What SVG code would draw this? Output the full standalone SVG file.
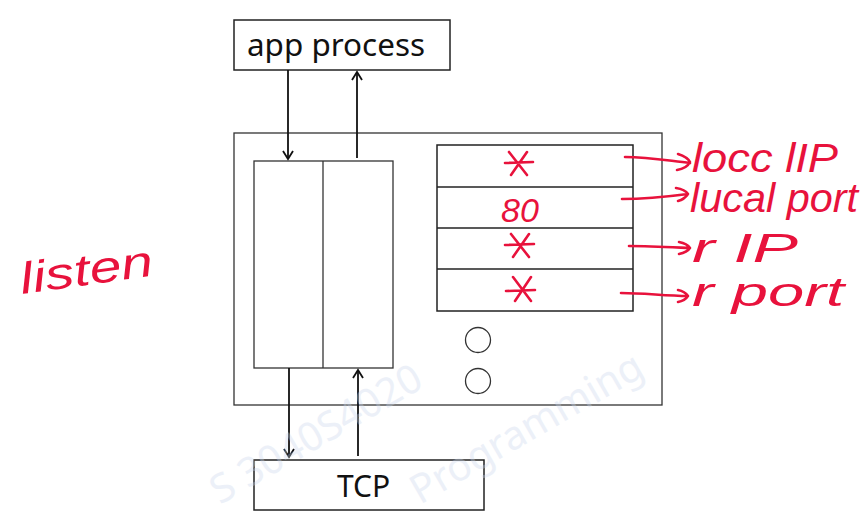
<svg xmlns="http://www.w3.org/2000/svg" width="862" height="524" viewBox="0 0 862 524">
<defs>
<style>
.box{fill:#fff;stroke:#222;stroke-width:1.5}
.thin{fill:none;stroke:#333;stroke-width:1.3}
.lbl{font-family:"Noto Sans","Open Sans",sans-serif;fill:#111}
.edge{fill:none;stroke:#111;stroke-width:1.8}
.red{fill:none;stroke:#e8123c;stroke-width:2.6;stroke-linecap:round;stroke-linejoin:round}
.rt{font-family:"Liberation Sans",sans-serif;fill:#e8123c;font-style:italic}
.wm{font-family:"Noto Sans",sans-serif;fill:#c9d6ec;opacity:0.35}
</style>
<marker id="ah" markerWidth="12" markerHeight="12" refX="10" refY="6" orient="auto" markerUnits="userSpaceOnUse">
<path d="M2,1 L10,6 L2,11" fill="none" stroke="#111" stroke-width="1.8"/>
</marker>
</defs>
<rect width="862" height="524" fill="#fff"/>
<g id="socket">
<rect class="thin" x="234" y="133" width="428" height="272"/>
</g>
<g id="queues">
<rect class="thin" x="254" y="161" width="139" height="207"/>
<line class="thin" x1="323" y1="161" x2="323" y2="368"/>
</g>
<g id="table">
<rect class="box" x="437" y="145" width="196" height="166"/>
<line class="box" x1="437" y1="187" x2="633" y2="187"/>
<line class="box" x1="437" y1="228" x2="633" y2="228"/>
<line class="box" x1="437" y1="269" x2="633" y2="269"/>
</g>
<g id="circles">
<circle class="thin" cx="478" cy="340" r="12.5"/>
<circle class="thin" cx="478" cy="381" r="12.5"/>
</g>
<g id="app-process">
<rect class="box" x="234" y="20" width="216" height="50"/>
<text class="lbl" x="247" y="56" font-size="30" textLength="178" lengthAdjust="spacingAndGlyphs">app process</text>
</g>
<g id="tcp">
<rect class="box" x="254" y="460" width="230" height="50"/>
<text class="lbl" x="337" y="497" font-size="30">TCP</text>
</g>
<g id="connectors">
<line class="edge" x1="288" y1="70" x2="288" y2="159" marker-end="url(#ah)"/>
<line class="edge" x1="357" y1="158" x2="357" y2="72" marker-end="url(#ah)"/>
<line class="edge" x1="289" y1="368" x2="289" y2="457" marker-end="url(#ah)"/>
<line class="edge" x1="358" y1="456" x2="358" y2="370" marker-end="url(#ah)"/>
</g>
<g id="annotations">
<path class="red" d="M625,157 C650,157 670,161 690,163 M678,154 C684,156 688,158 690,162 C688,166 684,169 677,170"/>
<path class="red" d="M622,199 C645,199 665,197 688,194 M676,188 C682,189 686,191 688,194 C686,197 682,200 678,201"/>
<path class="red" d="M629,246 C650,246 668,247 690,248 M679,242 C684,243 688,245 690,248 C688,251 684,253 679,254"/>
<path class="red" d="M621,293 C645,293 665,296 688,296 M678,290 C683,291 686,293 688,296 C686,299 683,301 678,302"/>
<g class="red">
<path d="M509,152 L527,175 M527,152 L511,175 M505,163 L533,162"/>
<path d="M511,234 L529,257 M529,234 L513,257 M505,245 L534,244"/>
<path d="M513,277 L531,301 M531,277 L515,301 M506,291 L535,290"/>
</g>
<text class="rt" x="501" y="222" font-size="34">80</text>
<text class="rt" x="692" y="172" font-size="40" textLength="146" lengthAdjust="spacingAndGlyphs">locc lIP</text>
<text class="rt" x="690" y="212" font-size="40" textLength="168" lengthAdjust="spacingAndGlyphs">lucal port</text>
<text class="rt" x="692" y="262" font-size="40" textLength="106" lengthAdjust="spacingAndGlyphs">r IP</text>
<text class="rt" x="692" y="306" font-size="40" textLength="152" lengthAdjust="spacingAndGlyphs">r  port</text>
<text class="rt" x="22" y="294" font-size="44" textLength="134" lengthAdjust="spacingAndGlyphs" transform="rotate(-8 22 294)">listen</text>
</g>
<g id="watermark">
<text class="wm" x="220" y="505" font-size="40" transform="rotate(-30 220 505)">S 3040S4020</text>
<text class="wm" x="420" y="505" font-size="40" transform="rotate(-30 420 505)">Programming</text>
</g>
</svg>
